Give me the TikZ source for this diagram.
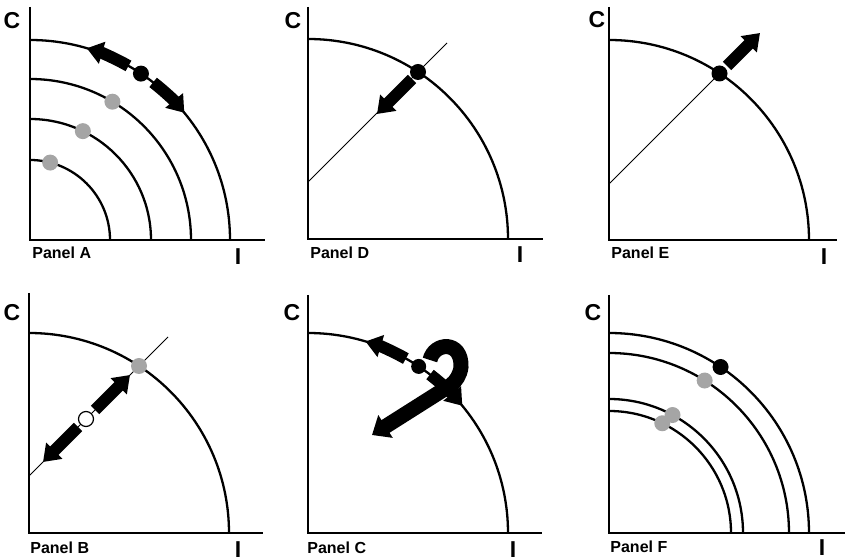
\documentclass[tikz,border=0pt]{standalone}
\usepackage{fontspec}
\setmainfont{Liberation Sans}
\usetikzlibrary{arrows.meta}
\usepackage{xcolor}
\definecolor{dotgrey}{RGB}{165,165,165}

\begin{document}
\begin{tikzpicture}[x=0.5pt,y=0.5pt,
  axis/.style={line width=0.8pt},
  ppf/.style={line width=1.15pt},
  ray/.style={line width=0.45pt},
  move/.style={line width=6pt,-{Triangle[length=8pt,width=11pt]}},
  swing/.style={line width=7.5pt,-{Triangle[length=8pt,width=13pt]}},
  spot/.style={fill=black},
  grey spot/.style={fill=dotgrey},
  open spot/.style={draw=black,fill=white,line width=0.6pt},
  ylab/.style={font=\fontsize{11.5}{13}\selectfont\bfseries,inner sep=0pt},
  plab/.style={font=\fontsize{8}{9}\selectfont\bfseries,anchor=west,inner sep=0pt}]
  \useasboundingbox (0,0) rectangle (846,-560);

  % Panel A: four frontiers, moves along the outer one
  \begin{scope}[shift={(30,-240)}]
    \draw[axis] (0,233) -- (0,0) -- (235,0);
    \foreach \r in {80,121,161,200}
      \draw[ppf] (0,\r) arc[start angle=90,end angle=0,radius=\r];
    \draw[move] (60.5:200) arc[start angle=60.5,end angle=73.5,radius=200];
    \draw[move] (52:200) arc[start angle=52,end angle=39.5,radius=200];
    \fill[spot] (56.3:200) circle[radius=8];
    \fill[grey spot] (59.2:161) circle[radius=8];
    \fill[grey spot] (64.1:121) circle[radius=8];
    \fill[grey spot] (75.4:80) circle[radius=8];
    \node[ylab] (cA) at (-18,219) {C};
    \node[ylab] (iA) at (208,-17) {I};
    \node[plab] (pA) at (2,-13) {Panel A};
  \end{scope}

  % Panel D: move inward along the ray
  \begin{scope}[shift={(308,-239)}]
    \draw[axis] (0,232) -- (0,0) -- (235,0);
    \draw[ray] (0,57) -- (139,196);
    \draw[ppf] (0,200) arc[start angle=90,end angle=0,radius=200];
    \draw[move] (104,160) -- (69,125);
    \fill[spot] (110,167) circle[radius=8];
    \node[ylab] (cD) at (-15,218) {C};
    \node[ylab] (iD) at (212,-16) {I};
    \node[plab] (pD) at (2,-14) {Panel D};
  \end{scope}

  % Panel E: move outward past the frontier
  \begin{scope}[shift={(609,-240)}]
    \draw[axis] (0,233) -- (0,0) -- (228,0);
    \draw[ray] (0,56) -- (110.5,166.5);
    \draw[ppf] (0,200) arc[start angle=90,end angle=0,radius=200];
    \draw[move] (118,174) -- (151,207);
    \fill[spot] (110.5,166.5) circle[radius=8];
    \node[ylab] (cE) at (-12,220) {C};
    \node[ylab] (iE) at (215,-17) {I};
    \node[plab] (pE) at (2,-13) {Panel E};
  \end{scope}

  % Panel B: interior point, moves both ways on the ray
  \begin{scope}[shift={(29,-533)}]
    \draw[axis] (0,240) -- (0,0) -- (234,0);
    \draw[ray] (0,57) -- (139,196);
    \draw[ppf] (0,200) arc[start angle=90,end angle=0,radius=200];
    \draw[move] (66,123) -- (101,158);
    \draw[move] (49,106) -- (14,71);
    \fill[grey spot] (110,167) circle[radius=8];
    \filldraw[open spot] (57,114) circle[radius=7.5];
    \node[ylab] (cB) at (-17,220) {C};
    \node[ylab] (iB) at (209,-17) {I};
    \node[plab] (pB) at (1,-15) {Panel B};
  \end{scope}

  % Panel C: moves along the frontier and a turn back inside
  \begin{scope}[shift={(308,-533)}]
    \draw[axis] (0,238) -- (0,0) -- (234,0);
    \draw[ppf] (0,200) arc[start angle=90,end angle=0,radius=200];
    \draw[move] (60.7:200) arc[start angle=60.7,end angle=73.3,radius=200];
    \draw[move] (52.4:200) arc[start angle=52.4,end angle=39.5,radius=200];
    \fill[spot] (56.4:200) circle[radius=7.5];
    \draw[swing] (122,173) .. controls (126,191) and (154,193) .. (153,166)
      .. controls (152,158) and (148,152) .. (143,148) -- (64,98);
    \node[ylab] (cC) at (-16,220) {C};
    \node[ylab] (iC) at (205,-17) {I};
    \node[plab] (pC) at (-1,-15) {Panel C};
  \end{scope}

  % Panel F: two pairs of frontiers
  \begin{scope}[shift={(609,-533)}]
    \draw[axis] (0,238) -- (0,0) -- (236,0);
    \foreach \r in {122,134,180,200}
      \draw[ppf] (0,\r) arc[start angle=90,end angle=0,radius=\r];
    \fill[spot] (56.1:200) circle[radius=8];
    \fill[grey spot] (57.9:180) circle[radius=8];
    \fill[grey spot] (61.7:134) circle[radius=8];
    \fill[grey spot] (64.1:122) circle[radius=8];
    \node[ylab] (cF) at (-16,220) {C};
    \node[ylab] (iF) at (213,-15) {I};
    \node[plab] (pF) at (1,-14) {Panel F};
  \end{scope}
\end{tikzpicture}
\end{document}
